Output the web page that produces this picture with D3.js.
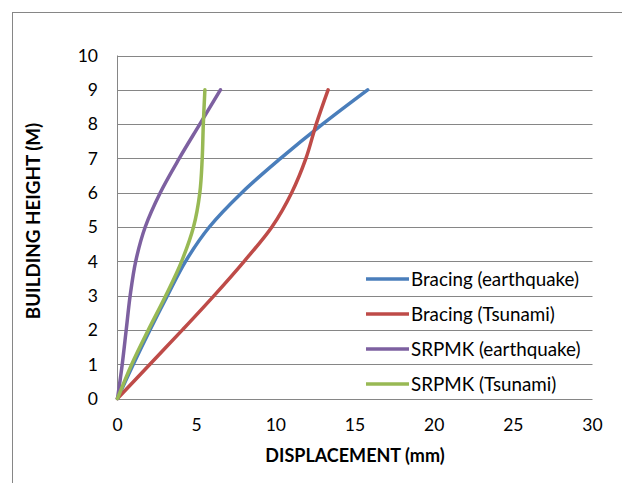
<!DOCTYPE html>
<html>
<head>
<meta charset="utf-8">
<style>
body { margin: 0; background: #fff; }
text { font-family: Lato, "Open Sans", sans-serif; fill: #000; }
</style>
</head>
<body>
<svg id="chart" width="622" height="483"></svg>
<script src="https://cdn.jsdelivr.net/npm/d3@7"></script>
<script>
// building height (m) for each reading
var heights = [0, 1, 2, 3, 4, 5, 6, 7, 8, 9];

// displacement (mm) at each height
var bracingEq   = [0, 1.0, 2.05, 3.15, 4.3, 5.8, 7.85, 10.3, 12.95, 15.8];
var bracingTsu  = [0, 2.05, 4.1, 6.1, 8.0, 9.75, 11.0, 11.9, 12.55, 13.3];
var srpmkEq     = [0, 0.3, 0.55, 0.8, 1.15, 1.75, 2.7, 3.9, 5.2, 6.5];
var srpmkTsu    = [0, 0.9, 1.95, 3.05, 4.05, 4.8, 5.2, 5.35, 5.42, 5.52];

var seriesNames = ["Bracing (earthquake)", "Bracing (Tsunami)", "SRPMK (earthquake)", "SRPMK (Tsunami)"];
var seriesColors = ["#4a7ebb", "#be4b48", "#7d60a0", "#98b954"];
var seriesValues = [bracingEq, bracingTsu, srpmkEq, srpmkTsu];

var xTicks = [0, 5, 10, 15, 20, 25, 30];
var yTicks = [0, 1, 2, 3, 4, 5, 6, 7, 8, 9, 10];

var svg = d3.select("#chart");

// outer chart border (Excel chart area)
svg.append("rect")
  .attr("x", 12.5).attr("y", 12.5)
  .attr("width", 640).attr("height", 500)
  .attr("fill", "none").attr("stroke", "#868686").attr("stroke-width", 1);

var x = d3.scaleLinear().domain([0, 30]).range([117.5, 592.5]);
var y = d3.scaleLinear().domain([0, 10]).range([398.5, 55.5]);

// horizontal gridlines
svg.append("g").selectAll("line")
  .data(yTicks)
  .join("line")
  .attr("x1", x(0)).attr("x2", x(30))
  .attr("y1", function(d) { return Math.round(y(d)) + 0.5; })
  .attr("y2", function(d) { return Math.round(y(d)) + 0.5; })
  .attr("stroke", "#868686").attr("stroke-width", 1);

// left axis line
svg.append("line")
  .attr("x1", x(0)).attr("x2", x(0))
  .attr("y1", y(10)).attr("y2", y(0))
  .attr("stroke", "#868686").attr("stroke-width", 1);

// tick labels
svg.append("g").selectAll("text")
  .data(yTicks)
  .join("text")
  .attr("x", 98)
  .attr("y", function(d) { return y(d); })
  .attr("dy", "0.36em")
  .attr("text-anchor", "end")
  .attr("font-size", 17.5)
  .text(function(d) { return d; });

svg.append("g").selectAll("text")
  .data(xTicks)
  .join("text")
  .attr("x", function(d) { return x(d); })
  .attr("y", 425)
  .attr("dy", "0.36em")
  .attr("text-anchor", "middle")
  .attr("font-size", 17.5)
  .text(function(d) { return d; });

// axis titles
svg.append("text")
  .attr("x", 355).attr("y", 456)
  .attr("dy", "0.36em")
  .attr("text-anchor", "middle")
  .attr("font-size", 18).attr("font-weight", "bold")
  .text("DISPLACEMENT (mm)");

svg.append("text")
  .attr("transform", "translate(33,221) rotate(-90)")
  .attr("dy", "0.36em")
  .attr("text-anchor", "middle")
  .attr("font-size", 18.8).attr("font-weight", "bold")
  .text("BUILDING HEIGHT (M)");

// series lines
var line = d3.line()
  .x(function(d) { return x(d[0]); })
  .y(function(d) { return y(d[1]); })
  .curve(d3.curveCatmullRom.alpha(0.5));

seriesValues.forEach(function(vals, i) {
  var pts = vals.map(function(v, j) { return [v, heights[j]]; });
  svg.append("path")
    .datum(pts)
    .attr("d", line)
    .attr("fill", "none")
    .attr("stroke", seriesColors[i])
    .attr("stroke-width", 3.5)
    .attr("stroke-linecap", "round");
});

// legend
var legend = svg.append("g").selectAll("g")
  .data(seriesNames)
  .join("g")
  .attr("transform", function(d, i) { return "translate(366," + (279 + i * 35) + ")"; });

legend.append("line")
  .attr("x1", 0).attr("x2", 43)
  .attr("stroke", function(d, i) { return seriesColors[i]; })
  .attr("stroke-width", 3.5);

legend.append("text")
  .attr("x", 45).attr("dy", "0.36em")
  .attr("font-size", 18.8)
  .text(function(d) { return d; });
</script>
</body>
</html>
